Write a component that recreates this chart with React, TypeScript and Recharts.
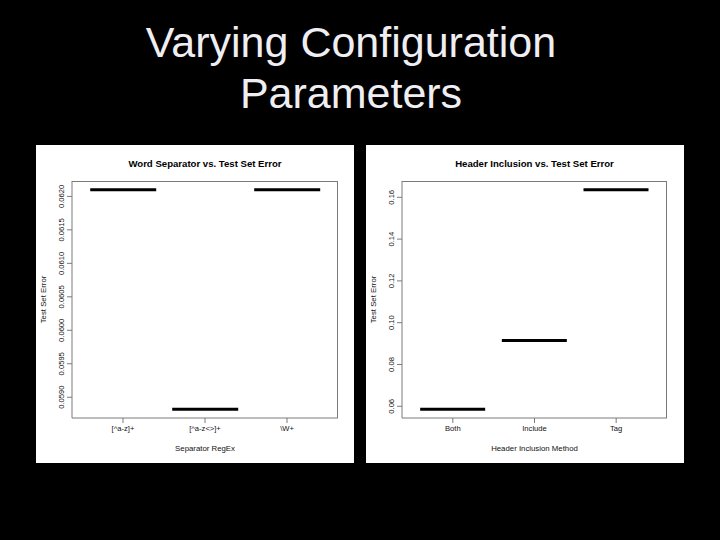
import { BarChart, Bar, XAxis, YAxis, Label } from "recharts"

// Word separator panel
const separatorCategories = ["[^a-z]+", "[^a-z<>]+", "\\W+"]
const separatorErrors = [0.0621, 0.05882, 0.0621]
const separatorTicks = [0.059, 0.0595, 0.06, 0.0605, 0.061, 0.0615, 0.062]
const separatorDomain = [0.05869, 0.06223]

// Header inclusion panel
const headerCategories = ["Both", "Include", "Tag"]
const headerErrors = [0.0586, 0.0915, 0.1636]
const headerTicks = [0.06, 0.08, 0.1, 0.12, 0.14, 0.16]
const headerDomain = [0.0544, 0.1678]

const FRAME = "#7a7a7a"
const INK = "#111"
const FONT = "'Liberation Sans', Arial, sans-serif"

// median drawn as a single horizontal stroke at the top of the bar
const MedianLine = (props: any) => {
  const { x, y, width } = props
  return <line x1={x} x2={x + width} y1={y} y2={y} stroke="#000" strokeWidth={3} />
}

const RotatedTick = (props: any) => {
  const { x, y, payload, digits } = props
  return (
    <text
      x={x}
      y={y}
      transform={`rotate(-90 ${x} ${y})`}
      textAnchor="middle"
      fontSize={7.6}
      fontFamily={FONT}
      fill={INK}
    >
      {payload.value.toFixed(digits)}
    </text>
  )
}

interface PanelProps {
  title: string
  xTitle: string
  categories: string[]
  values: number[]
  ticks: number[]
  domain: number[]
  digits: number
  left: number
  rightMargin: number
}

const Panel = ({ title, xTitle, categories, values, ticks, domain, digits, left, rightMargin }: PanelProps) => {
  const rows = categories.map((name, i) => ({ name, value: values[i] }))
  const plotLeft = 36
  const plotTop = 36
  const plotWidth = 318 - plotLeft - rightMargin
  const plotHeight = 318 - plotTop - 45

  return (
    <div style={{ position: "absolute", left, top: 145, width: 318, height: 318, background: "#fff" }}>
      <div
        style={{
          position: "absolute",
          left: plotLeft,
          width: plotWidth,
          top: 12,
          textAlign: "center",
          fontFamily: FONT,
          fontWeight: "bold",
          fontSize: 9.6,
          color: "#000",
          lineHeight: "14px",
        }}
      >
        {title}
      </div>
      <BarChart
        width={318}
        height={318}
        data={rows}
        margin={{ top: plotTop, right: rightMargin, bottom: 0, left: 0 }}
        barCategoryGap="10%"
      >
        <XAxis
          dataKey="name"
          height={45}
          interval={0}
          padding={{ left: 10, right: 10 }}
          stroke={FRAME}
          tickSize={5}
          tickMargin={3}
          tick={{ fill: INK, fontSize: 7.6, fontFamily: FONT }}
        >
          <Label
            content={({ viewBox }: any) => (
              <text
                x={viewBox.x + viewBox.width / 2}
                y={viewBox.y + 33}
                textAnchor="middle"
                fontSize={7.8}
                fontFamily={FONT}
                fill={INK}
              >
                {xTitle}
              </text>
            )}
          />
        </XAxis>
        <YAxis
          type="number"
          domain={domain}
          ticks={ticks}
          width={36}
          stroke={FRAME}
          tickSize={5}
          tickMargin={3}
          allowDataOverflow
          tick={<RotatedTick digits={digits} />}
        >
          <Label
            content={({ viewBox }: any) => {
              const cx = viewBox.x + 10
              const cy = viewBox.y + viewBox.height / 2
              return (
                <text
                  x={cx}
                  y={cy}
                  transform={`rotate(-90 ${cx} ${cy})`}
                  textAnchor="middle"
                  fontSize={7.8}
                  fontFamily={FONT}
                  fill={INK}
                >
                  Test Set Error
                </text>
              )
            }}
          />
        </YAxis>
        <Bar dataKey="value" shape={<MedianLine />} isAnimationActive={false} />
      </BarChart>
      {/* plot box, as R's box() draws it */}
      <div
        style={{
          position: "absolute",
          left: plotLeft,
          top: plotTop,
          width: plotWidth,
          height: plotHeight,
          boxSizing: "border-box",
          borderTop: `1px solid ${FRAME}`,
          borderRight: `1px solid ${FRAME}`,
          pointerEvents: "none",
        }}
      />
    </div>
  )
}

export default function App() {
  return (
    <div style={{ position: "absolute", left: 0, top: 0, width: 720, height: 540, background: "#000", overflow: "hidden" }}>
      <div
        style={{
          position: "absolute",
          left: 0,
          width: 702,
          top: 17,
          textAlign: "center",
          fontFamily: FONT,
          fontSize: 43,
          lineHeight: "51px",
          color: "#eeeef3",
        }}
      >
        Varying Configuration
        <br />
        Parameters
      </div>
      <Panel
        title="Word Separator vs. Test Set Error"
        xTitle="Separator RegEx"
        categories={separatorCategories}
        values={separatorErrors}
        ticks={separatorTicks}
        domain={separatorDomain}
        digits={4}
        left={36}
        rightMargin={16}
      />
      <Panel
        title="Header Inclusion vs. Test Set Error"
        xTitle="Header Inclusion Method"
        categories={headerCategories}
        values={headerErrors}
        ticks={headerTicks}
        domain={headerDomain}
        digits={2}
        left={366}
        rightMargin={17}
      />
    </div>
  )
}
